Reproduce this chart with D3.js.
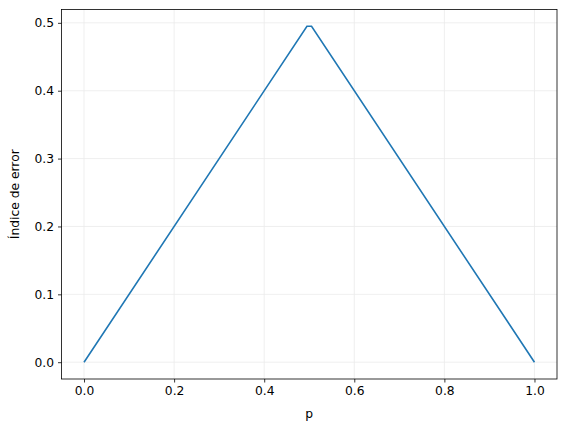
<!DOCTYPE html>
<html>
<head>
<meta charset="utf-8">
<script src="https://cdn.jsdelivr.net/npm/d3@7"></script>
<style>
  body { margin: 0; background: #fff; }
  svg text { font-family: "DejaVu Sans", sans-serif; }
</style>
</head>
<body>
<div id="main"></div>
<script>
// data
var pValues = [0, 0.4949, 0.5051, 1];
var errorValues = [0, 0.4949, 0.4949, 0];
var xTicks = [0, 0.2, 0.4, 0.6, 0.8, 1.0];
var yTicks = [0, 0.1, 0.2, 0.3, 0.4, 0.5];

var width = 567, height = 432;
var margin = {top: 9.5, right: 10, bottom: 53, left: 61.5};

var svg = d3.select('#main')
    .append('svg')
    .attr("width", width)
    .attr("height", height);

var x = d3.scaleLinear()
    .domain([-0.05, 1.05])
    .range([margin.left, width - margin.right]);

var y = d3.scaleLinear()
    .domain([-0.02475, 0.51965])
    .range([height - margin.bottom, margin.top]);

// grid
var grid = svg.append("g").attr("stroke", "#ebebeb").attr("stroke-width", 0.8);
xTicks.forEach(function(t) {
    grid.append("line")
        .attr("x1", x(t)).attr("x2", x(t))
        .attr("y1", y.range()[0]).attr("y2", y.range()[1]);
});
yTicks.forEach(function(t) {
    grid.append("line")
        .attr("y1", y(t)).attr("y2", y(t))
        .attr("x1", x.range()[0]).attr("x2", x.range()[1]);
});

// line
var line = d3.line()
    .x(function(d) { return x(d[0]); })
    .y(function(d) { return y(d[1]); });

svg.append("path")
    .datum(pValues.map(function(p, i) { return [p, errorValues[i]]; }))
    .attr("d", line)
    .attr("fill", "none")
    .attr("stroke", "#1f77b4")
    .attr("stroke-width", 1.6);

// axes
var xAxis = svg.append("g")
    .attr("transform", "translate(0," + (height - margin.bottom) + ")")
    .call(d3.axisBottom(x).tickValues(xTicks).tickFormat(d3.format(".1f")).tickSizeOuter(0).tickSize(3.5).tickPadding(4));

var yAxis = svg.append("g")
    .attr("transform", "translate(" + margin.left + ",0)")
    .call(d3.axisLeft(y).tickValues(yTicks).tickFormat(d3.format(".1f")).tickSizeOuter(0).tickSize(3.5).tickPadding(4));

[xAxis, yAxis].forEach(function(a) {
    a.select(".domain").remove();
    a.selectAll("line").attr("stroke", "#000").attr("stroke-width", 0.8);
    a.selectAll("text").attr("fill", "#000").style("font-size", "12.3px");
});

// frame
svg.append("rect")
    .attr("x", x.range()[0]).attr("y", y.range()[1])
    .attr("width", x.range()[1] - x.range()[0])
    .attr("height", y.range()[0] - y.range()[1])
    .attr("fill", "none")
    .attr("stroke", "#000")
    .attr("stroke-width", 0.8);

// labels
svg.append("text")
    .attr("x", (x.range()[0] + x.range()[1]) / 2)
    .attr("y", 418)
    .attr("text-anchor", "middle")
    .style("font-size", "12.3px")
    .text("p");

svg.append("text")
    .attr("transform", "translate(19," + ((y.range()[0] + y.range()[1]) / 2) + ") rotate(-90)")
    .attr("text-anchor", "middle")
    .style("font-size", "12.3px")
    .text("Índice de error");
</script>
</body>
</html>
